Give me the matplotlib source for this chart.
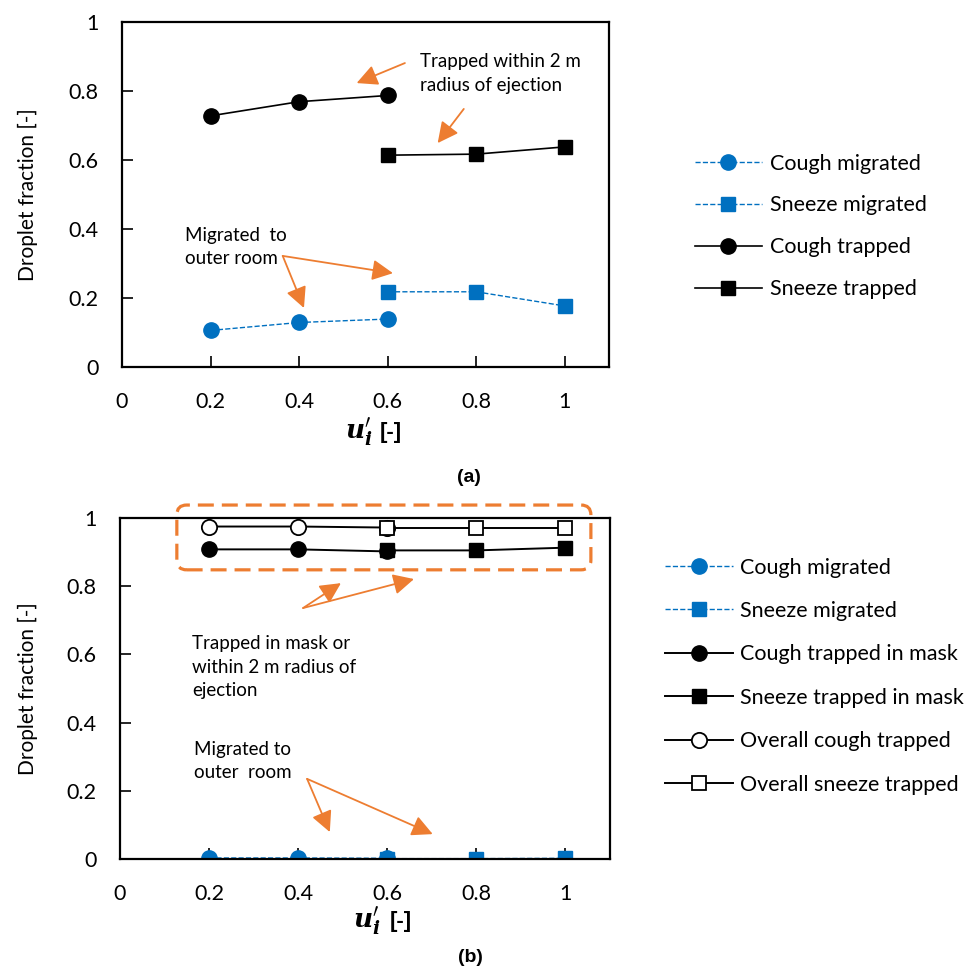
import matplotlib
matplotlib.use("Agg")
import matplotlib.pyplot as plt
from matplotlib.patches import FancyBboxPatch

plt.rcParams['font.family'] = ['Lato', 'DejaVu Sans']
plt.rcParams['mathtext.fontset'] = 'dejavuserif'

# ---------------- data ----------------
x_cough = [0.2, 0.4, 0.6]
x_sneeze = [0.6, 0.8, 1.0]

# panel (a)
a_cough_migrated = [0.106, 0.129, 0.139]
a_sneeze_migrated = [0.218, 0.218, 0.177]
a_cough_trapped = [0.728, 0.769, 0.787]
a_sneeze_trapped = [0.614, 0.617, 0.638]
a_labels = ["Cough migrated", "Sneeze migrated", "Cough trapped", "Sneeze trapped"]

# panel (b)
b_cough_migrated = [0.003, 0.003, 0.002]
b_sneeze_migrated = [0.001, 0.001, 0.002]
b_cough_mask = [0.908, 0.908, 0.902]
b_sneeze_mask = [0.905, 0.905, 0.913]
b_cough_overall = [0.975, 0.975, 0.972]
b_sneeze_overall = [0.970, 0.970, 0.970]
b_labels = ["Cough migrated", "Sneeze migrated", "Cough trapped in mask",
            "Sneeze trapped in mask", "Overall cough trapped", "Overall sneeze trapped"]

xticks = [0, 0.2, 0.4, 0.6, 0.8, 1]
xtick_labels = ["0", "0.2", "0.4", "0.6", "0.8", "1"]
yticks = [0, 0.2, 0.4, 0.6, 0.8, 1]
ytick_labels = ["0", "0.2", "0.4", "0.6", "0.8", "1"]

BLUE = "#0070C0"
ORANGE = "#ED7D31"
FS = 15.5
AFS = 13.5
BOLD_FAMILY = ['Liberation Sans', 'DejaVu Sans']

fig = plt.figure(figsize=(9.76, 9.72), dpi=100)
W, H = 976, 972

def fx(px):
    return px / W

def fy(py):
    return 1 - py / H

def px_axes(l, t, r, b):
    return fig.add_axes([l / W, 1 - b / H, (r - l) / W, (b - t) / H])

ax1 = px_axes(122, 22, 609, 367)
ax2 = px_axes(120, 518, 610, 859)

def style(ax, left_px, width_px):
    ax.set_xlim(0, 1.1)
    ax.set_ylim(0, 1)
    ax.set_xticks(xticks)
    ax.set_xticklabels(xtick_labels)
    ax.set_yticks(yticks)
    ax.set_yticklabels(ytick_labels)
    ax.tick_params(axis='x', direction='in', length=8, width=1.2, pad=18, labelsize=FS)
    ax.tick_params(axis='y', direction='in', length=8, width=1.2, pad=17, labelsize=FS)
    for s in ax.spines.values():
        s.set_linewidth(1.6)
    ax.set_ylabel("Droplet fraction [-]", fontsize=15)
    ax.yaxis.set_label_coords((38 - left_px) / width_px, 0.5)

def xlabel(u_left, base, br_left):
    fig.text(fx(u_left), fy(base), r"$\boldsymbol{u}_{\boldsymbol{i}}^{\prime}$", fontsize=19,
             ha='left', va='baseline')
    fig.text(fx(br_left), fy(base), "[-]", fontsize=16, family=BOLD_FAMILY,
             fontweight='bold', ha='left', va='baseline')

mk_c = 11
mk_s = 10.5

# ---------- panel (a) ----------
h1, = ax1.plot(x_cough, a_cough_migrated, ls='--', lw=1.0, color=BLUE, marker='o', ms=mk_c)
h2, = ax1.plot(x_sneeze, a_sneeze_migrated, ls='--', lw=1.0, color=BLUE, marker='s', ms=mk_s)
h3, = ax1.plot(x_cough, a_cough_trapped, ls='-', lw=1.2, color='black', marker='o', ms=mk_c)
h4, = ax1.plot(x_sneeze, a_sneeze_trapped, ls='-', lw=1.2, color='black', marker='s', ms=mk_s)
style(ax1, 122, 487)
xlabel(345, 438, 380)

aprops = dict(arrowstyle='-|>,head_length=0.9,head_width=0.45', color=ORANGE, lw=1.3,
              mutation_scale=14, shrinkA=0, shrinkB=0)

ax1.text(0.673, 0.851, "Trapped within 2 m\nradius of ejection", fontsize=AFS,
         va='center', ha='left', linespacing=1.45)
ax1.annotate("", xy=(0.530, 0.823), xytext=(0.639, 0.881), arrowprops=aprops)
ax1.annotate("", xy=(0.713, 0.649), xytext=(0.772, 0.748), arrowprops=aprops)

ax1.text(0.142, 0.348, "Migrated  to\nouter room", fontsize=AFS,
         va='center', ha='left', linespacing=1.45)
ax1.annotate("", xy=(0.411, 0.171), xytext=(0.363, 0.322), arrowprops=aprops)
ax1.annotate("", xy=(0.612, 0.272), xytext=(0.363, 0.322), arrowprops=aprops)

ax1.legend([h1, h2, h3, h4], a_labels, loc='upper left',
           bbox_to_anchor=(fx(695), fy(153.5)), bbox_transform=fig.transFigure,
           frameon=False, fontsize=FS, handlelength=3.1, handletextpad=0.37,
           labelspacing=1.02, borderaxespad=0, borderpad=0)

fig.text(fx(469), fy(477), "(a)", fontsize=14, fontweight='bold', family=BOLD_FAMILY,
         ha='center', va='center')

# ---------- panel (b) ----------
g1, = ax2.plot(x_cough, b_cough_migrated, ls='--', lw=1.0, color=BLUE, marker='o', ms=mk_c)
g2, = ax2.plot(x_sneeze, b_sneeze_migrated, ls='--', lw=1.0, color=BLUE, marker='s', ms=mk_s)
g3, = ax2.plot(x_cough, b_cough_mask, ls='-', lw=1.4, color='black', marker='o', ms=mk_c)
g4, = ax2.plot(x_sneeze, b_sneeze_mask, ls='-', lw=1.4, color='black', marker='s', ms=mk_s)
g5, = ax2.plot(x_cough, b_cough_overall, ls='-', lw=1.4, color='black', marker='o', ms=mk_c,
               mfc='white', mec='black', mew=1.3)
g6, = ax2.plot(x_sneeze, b_sneeze_overall, ls='-', lw=1.4, color='black', marker='s', ms=mk_s,
               mfc='white', mec='black', mew=1.3)
style(ax2, 120, 490)
xlabel(353, 927, 390)

box = FancyBboxPatch((0.116, 0.848), 0.961 - 0.116, 1.038 - 0.848,
                     boxstyle="round,pad=0,rounding_size=0.02", mutation_aspect=490 / 341,
                     transform=ax2.transAxes, fill=False, ec=ORANGE, lw=2.3,
                     ls=(0, (5, 2.5)), clip_on=False)
ax2.add_patch(box)

ax2.text(0.162, 0.563, "Trapped in mask or\nwithin 2 m radius of\nejection", fontsize=AFS,
         va='center', ha='left', linespacing=1.45)
ax2.annotate("", xy=(0.496, 0.809), xytext=(0.411, 0.736), arrowprops=aprops)
ax2.annotate("", xy=(0.660, 0.821), xytext=(0.411, 0.736), arrowprops=aprops)

ax2.text(0.166, 0.287, "Migrated to\nouter  room", fontsize=AFS,
         va='center', ha='left', linespacing=1.45)
ax2.annotate("", xy=(0.471, 0.079), xytext=(0.420, 0.235), arrowprops=aprops)
ax2.annotate("", xy=(0.702, 0.073), xytext=(0.420, 0.235), arrowprops=aprops)

ax2.legend([g1, g2, g3, g4, g5, g6], b_labels, loc='upper left',
           bbox_to_anchor=(fx(665), fy(557.5)), bbox_transform=fig.transFigure,
           frameon=False, fontsize=FS, handlelength=3.15, handletextpad=0.33,
           labelspacing=1.09, borderaxespad=0, borderpad=0)

fig.text(fx(470), fy(957), "(b)", fontsize=14, fontweight='bold', family=BOLD_FAMILY,
         ha='center', va='center')

fig.savefig("out.png", dpi=100)
